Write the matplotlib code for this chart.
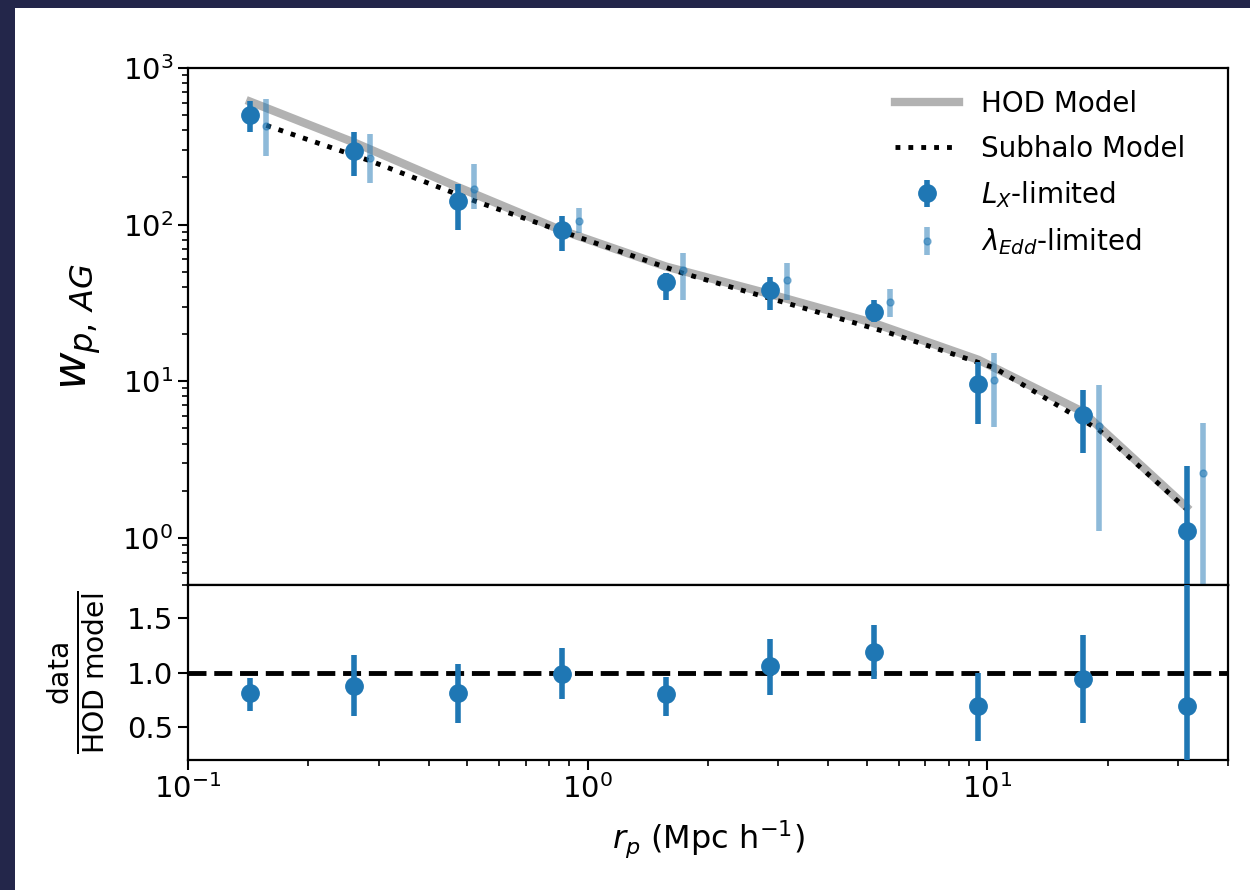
import numpy as np
import matplotlib
matplotlib.use("Agg")
import matplotlib.pyplot as plt
from matplotlib.patches import Rectangle

# ---------------- data ----------------
rp_lx = [0.143, 0.26, 0.475, 0.86, 1.57, 2.86, 5.2, 9.5, 17.3, 31.5]
wp_lx = [500, 295, 142, 92, 43, 38, 27.7, 9.6, 6.1, 1.1]
wp_lx_hi = [616, 389, 182, 114, 49, 46, 33, 13.3, 8.8, 2.87]
wp_lx_lo = [389, 205, 92, 68, 33, 28.5, 24, 5.3, 3.5, 0.05]

rp_edd = [0.157, 0.286, 0.52, 0.95, 1.73, 3.15, 5.7, 10.4, 19.0, 34.6]
wp_edd = [425, 265, 169, 106, 51, 44, 32, 10.2, 5.2, 2.6]
wp_edd_hi = [631, 378, 244, 128, 66, 56.5, 39, 15.2, 9.4, 5.45]
wp_edd_lo = [275, 185, 126, 88, 33, 33, 25.7, 5.1, 1.1, 0.05]

rp_hod = [0.143, 0.26, 0.475, 0.86, 1.57, 2.86, 5.2, 9.5, 17.3, 31.5]
wp_hod = [610, 335, 173, 92, 54, 36, 23.5, 13.7, 6.4, 1.57]

rp_sub = [0.157, 0.286, 0.52, 0.95, 1.73, 3.15, 5.7, 10.4, 19.0, 31.5]
wp_sub = [430, 255, 142, 83, 49, 31.5, 20.3, 12.2, 4.9, 1.53]

ratio = [0.815, 0.88, 0.815, 0.99, 0.80, 1.055, 1.185, 0.69, 0.94, 0.69]
ratio_hi = [0.95, 1.16, 1.08, 1.22, 0.955, 1.31, 1.43, 1.0, 1.34, 2.6]
ratio_lo = [0.65, 0.60, 0.54, 0.76, 0.60, 0.79, 0.945, 0.37, 0.54, -1.2]

# ---------------- figure ----------------
W, H = 1250, 890
fig = plt.figure(figsize=(W / 100, H / 100), dpi=100)
fig.patch.set_facecolor('#23264a')
fig.add_artist(Rectangle((15 / W, 0), 1 - 15 / W, 1 - 8 / H, transform=fig.transFigure,
                         facecolor='white', edgecolor='none', zorder=-10))

FS = 20
TFS = 21
plt.rcParams['font.size'] = FS
plt.rcParams['mathtext.fontset'] = 'dejavusans'

left = 188 / W
width = (1228 - 188) / W
ax1 = fig.add_axes([left, 1 - 585 / H, width, (585 - 68) / H])
ax2 = fig.add_axes([left, 1 - 760 / H, width, (760 - 585) / H], sharex=ax1)

c0 = '#1f77b4'

ax1.plot(rp_hod, wp_hod, color='gray', lw=6, alpha=0.6, label='HOD Model', zorder=1)
ax1.plot(rp_sub, wp_sub, color='black', lw=3.5, ls=':', label='Subhalo Model', zorder=2)

lx = np.array(wp_lx)
ax1.errorbar(rp_lx, wp_lx,
             yerr=[lx - np.array(wp_lx_lo), np.array(wp_lx_hi) - lx],
             fmt='o', color=c0, ms=12.5, elinewidth=4, capsize=0,
             label=r'$L_X$-limited', zorder=4)
ed = np.array(wp_edd)
ax1.errorbar(rp_edd, wp_edd,
             yerr=[ed - np.array(wp_edd_lo), np.array(wp_edd_hi) - ed],
             fmt='o', color=c0, ms=5, elinewidth=4, capsize=0, alpha=0.5,
             label=r'$\lambda_{Edd}$-limited', zorder=3)

ax1.set_xscale('log')
ax1.set_yscale('log')
ax1.set_xlim(0.1, 40)
ax1.set_ylim(0.5, 1000)
ax1.set_ylabel(r'$w_{p,\,AG}$', fontsize=33)
ax1.tick_params(axis='x', which='both', bottom=False, labelbottom=False)
ax1.tick_params(axis='y', which='major', labelsize=TFS, length=7, width=1.5)
ax1.tick_params(axis='y', which='minor', length=4, width=1.2)
for s in ax1.spines.values():
    s.set_linewidth(1.6)

leg = ax1.legend(loc='upper right', frameon=False, fontsize=FS, handlelength=2.3,
                 borderaxespad=0.2, labelspacing=0.6,
                 bbox_to_anchor=(0.975, 0.99))

ra = np.array(ratio)
ax2.errorbar(rp_lx, ratio,
             yerr=[ra - np.array(ratio_lo), np.array(ratio_hi) - ra],
             fmt='o', color=c0, ms=12.5, elinewidth=4, capsize=0, zorder=4)
ax2.axhline(1.0, color='black', lw=3.5, ls='--', zorder=2)
ax2.set_ylim(0.2, 1.8)
ax2.set_yticks([0.5, 1.0, 1.5])
ax2.set_xlim(0.1, 40)
ax2.set_ylabel(r'$\frac{\rm data}{\rm HOD\ model}$', fontsize=29)
ax2.set_xlabel(r'$r_p$ (Mpc h$^{-1}$)', fontsize=23, labelpad=10)
ax2.tick_params(axis='both', which='major', labelsize=TFS, length=7, width=1.5)
ax2.tick_params(axis='x', which='minor', length=4, width=1.2)
for s in ax2.spines.values():
    s.set_linewidth(1.6)

ax1.yaxis.set_label_coords(-0.082, 0.5)
ax2.yaxis.set_label_coords(-0.078, 0.5)

fig.savefig('out.png', dpi=100, facecolor=fig.get_facecolor())
